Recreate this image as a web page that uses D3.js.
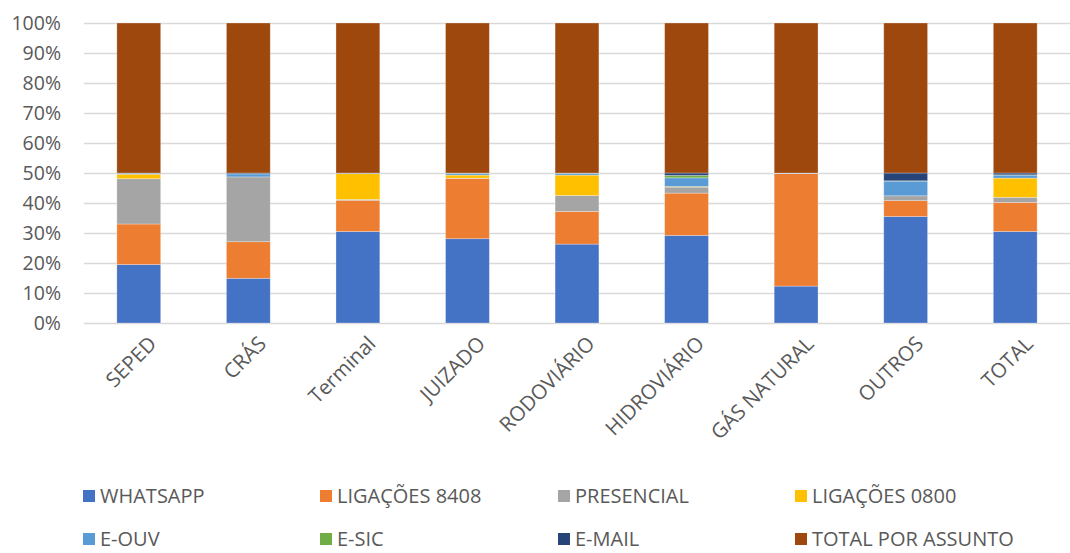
<!DOCTYPE html>
<html>
<head>
<meta charset="utf-8">
<script src="https://cdn.jsdelivr.net/npm/d3@7"></script>
<style>
  html, body { margin: 0; padding: 0; background: #fff; }
  svg text { font-family: "Open Sans", "Noto Sans", sans-serif; fill: #595959; }
</style>
</head>
<body>
<svg id="chart" width="1070" height="553"></svg>
<script>
// Categories (x axis)
const categories = ["SEPED", "CRÁS", "Terminal", "JUIZADO", "RODOVIÁRIO", "HIDROVIÁRIO", "GÁS NATURAL", "OUTROS", "TOTAL"];

// Series values (share per channel, %)
const whatsapp     = [19.5, 14.9, 30.5, 28.1, 26.3, 29.2, 12.3, 35.5, 30.5];
const ligacoes8408 = [13.5, 12.2, 10.4, 20.1, 10.9, 14.1, 37.5,  5.3,  9.7];
const presencial   = [15.1, 21.6,  0.3,  0.1,  5.3,  2.0,  0.1,  1.6,  1.7];
const ligacoes0800 = [ 1.5,  0.0,  8.6,  1.0,  6.8,  0.2,  0.0,  0.0,  6.4];
const eOuv         = [ 0.3,  1.0,  0.1,  0.5,  0.5,  2.9,  0.1,  4.9,  1.0];
const eSic         = [ 0.0,  0.0,  0.0,  0.1,  0.1,  0.8,  0.0,  0.1,  0.1];
const eMail        = [ 0.1,  0.3,  0.1,  0.1,  0.1,  0.8,  0.0,  2.6,  0.6];
const totalAssunto = [50.0, 50.0, 50.0, 50.0, 50.0, 50.0, 50.0, 50.0, 50.0];

// Series names and colours
const seriesNames = ["WHATSAPP", "LIGAÇÕES 8408", "PRESENCIAL", "LIGAÇÕES 0800", "E-OUV", "E-SIC", "E-MAIL", "TOTAL POR ASSUNTO"];
const seriesColors = ["#4472C4", "#ED7D31", "#A5A5A5", "#FFC000", "#5B9BD5", "#70AD47", "#264478", "#9E480E"];

// Y tick values
const yTicks = [0, 0.1, 0.2, 0.3, 0.4, 0.5, 0.6, 0.7, 0.8, 0.9, 1.0];

const seriesValues = [whatsapp, ligacoes8408, presencial, ligacoes0800, eOuv, eSic, eMail, totalAssunto];

// Build row table for the stack layout
const rows = categories.map((c, i) => {
  const r = { category: c };
  seriesNames.forEach((s, k) => { r[s] = seriesValues[k][i]; });
  return r;
});

const svg = d3.select("#chart");
const plot = { left: 84, right: 1070, top: 23, bottom: 323 };

const x = d3.scaleBand()
  .domain(categories)
  .range([plot.left, plot.right])
  .paddingInner(0.6)
  .paddingOuter(0.3);

const y = d3.scaleLinear().domain([0, 1]).range([plot.bottom, plot.top]);

const stack = d3.stack().keys(seriesNames).offset(d3.stackOffsetExpand);
const stacked = stack(rows);

// Gridlines
const grid = svg.append("g")
  .attr("transform", `translate(${plot.left},0)`)
  .call(d3.axisLeft(y).tickValues(yTicks).tickSize(-(plot.right - plot.left)).tickFormat(""));
grid.select(".domain").remove();
grid.selectAll("line").attr("stroke", "#D9D9D9").attr("stroke-width", 1.3);

// Y axis labels
const yAxis = svg.append("g")
  .attr("transform", `translate(${plot.left - 23},0)`)
  .call(d3.axisLeft(y).tickValues(yTicks).tickSize(0).tickPadding(0).tickFormat(d3.format(".0%")));
yAxis.select(".domain").remove();
yAxis.selectAll("text")
  .attr("font-size", 19.5)
  .style("font-family", "'Open Sans', 'Noto Sans', sans-serif")
  .attr("fill", "#595959");

// Stacked bars
svg.append("g")
  .selectAll("g")
  .data(stacked)
  .join("g")
  .attr("fill", (d, i) => seriesColors[i])
  .selectAll("rect")
  .data(d => d)
  .join("rect")
  .attr("x", d => x(d.data.category))
  .attr("width", x.bandwidth())
  .attr("y", d => y(d[1]))
  .attr("height", d => Math.max(0, y(d[0]) - y(d[1])))
  .attr("stroke", "#ffffff")
  .attr("stroke-opacity", 0.35)
  .attr("stroke-width", 0.8);

// X axis labels (rotated)
const xAxis = svg.append("g")
  .attr("transform", `translate(0,${plot.bottom + 12})`)
  .call(d3.axisBottom(x).tickSize(0).tickPadding(0));
xAxis.select(".domain").remove();
xAxis.selectAll("text")
  .attr("font-size", 20.5)
  .style("font-family", "'Open Sans', 'Noto Sans', sans-serif")
  .attr("fill", "#595959")
  .attr("text-anchor", "end")
  .attr("dy", "0.35em")
  .attr("transform", "translate(14,5) rotate(-45)");

// Legend (two rows of four)
const legendPos = [
  [83, 496], [320, 496], [558, 496], [795, 496],
  [83, 539], [320, 539], [558, 539], [795, 539]
];
const legend = svg.append("g")
  .selectAll("g")
  .data(seriesNames)
  .join("g")
  .attr("transform", (d, i) => `translate(${legendPos[i][0]},${legendPos[i][1]})`);
legend.append("rect")
  .attr("x", 0).attr("y", -6)
  .attr("width", 12).attr("height", 12)
  .attr("fill", (d, i) => seriesColors[i]);
legend.append("text")
  .attr("x", 17).attr("y", 0)
  .attr("dy", "0.35em")
  .attr("font-size", 20)
  .text(d => d);
</script>
</body>
</html>
